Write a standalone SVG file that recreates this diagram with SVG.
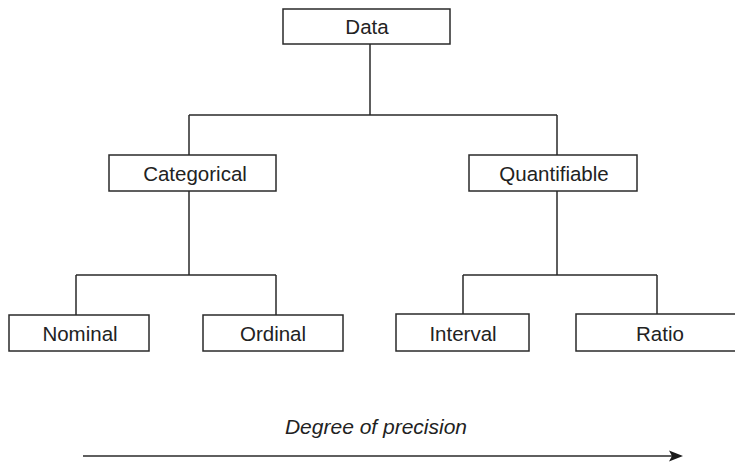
<svg xmlns="http://www.w3.org/2000/svg" width="735" height="462" viewBox="0 0 735 462">
  <style>
    .box { fill: #ffffff; stroke: #2a2a2a; stroke-width: 1.5; }
    .label { font-family: "Liberation Sans", Arial, sans-serif; font-size: 20.5px; fill: #222222; text-anchor: middle; }
    .wire { fill: none; stroke: #2a2a2a; stroke-width: 1.5; }
    .axis-label { font-family: "Liberation Sans", Arial, sans-serif; font-size: 21px; font-style: italic; fill: #222222; text-anchor: middle; }
  </style>
  <rect width="735" height="462" fill="#ffffff"/>

  <!-- tree connectors -->
  <g id="connectors">
    <path class="wire" d="M370 44 V115 M189 115 H557 M189 115 V155 M557 115 V155"/>
    <path class="wire" d="M189 191 V275 M76 275 H276 M76 275 V315 M276 275 V315"/>
    <path class="wire" d="M557 191 V275 M463 275 H657 M463 275 V314 M657 275 V314"/>
  </g>

  <g id="data">
    <rect class="box" x="283" y="9" width="167" height="35"/>
    <text class="label" x="367" y="34">Data</text>
  </g>
  <g id="categorical">
    <rect class="box" x="109" y="155" width="167" height="36"/>
    <text class="label" x="195" y="181">Categorical</text>
  </g>
  <g id="quantifiable">
    <rect class="box" x="469" y="155" width="168" height="36"/>
    <text class="label" x="554" y="181">Quantifiable</text>
  </g>
  <g id="nominal">
    <rect class="box" x="9" y="315" width="140" height="36"/>
    <text class="label" x="80" y="341">Nominal</text>
  </g>
  <g id="ordinal">
    <rect class="box" x="203" y="315" width="140" height="36"/>
    <text class="label" x="273" y="341">Ordinal</text>
  </g>
  <g id="interval">
    <rect class="box" x="396" y="314" width="133" height="37"/>
    <text class="label" x="463" y="341">Interval</text>
  </g>
  <g id="ratio">
    <rect class="box" x="576" y="314" width="170" height="37"/>
    <text class="label" x="660" y="341">Ratio</text>
  </g>

  <!-- precision axis -->
  <g id="precision-axis">
    <text class="axis-label" x="376" y="434">Degree of precision</text>
    <line x1="83" y1="456" x2="674" y2="456" stroke="#2a2a2a" stroke-width="1.6"/>
    <polygon points="683,456 669,450.5 672,456 669,461.5" fill="#1a1a1a"/>
  </g>
</svg>
